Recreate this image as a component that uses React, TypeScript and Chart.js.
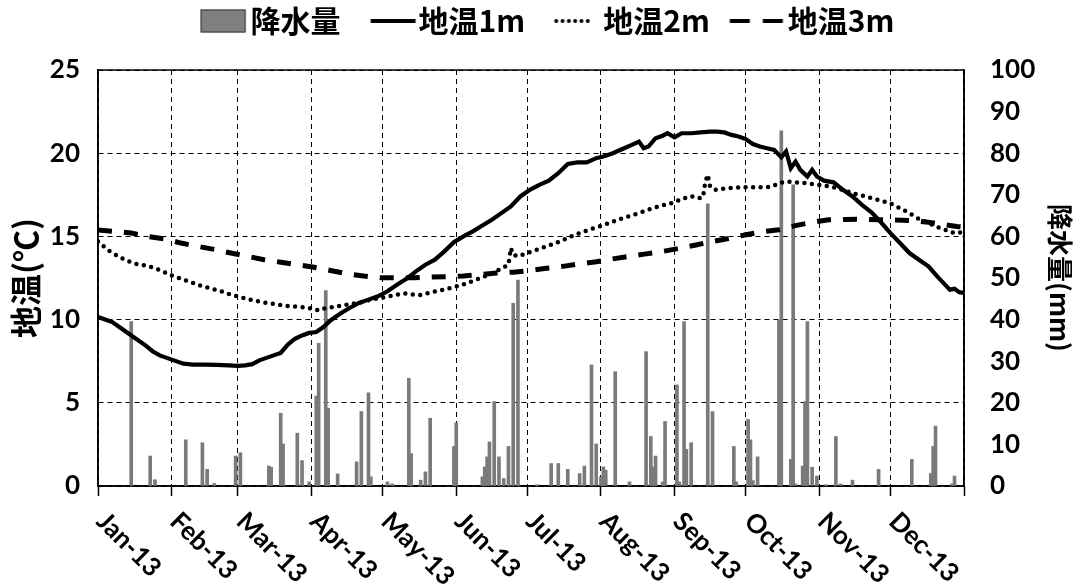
import { useEffect, useRef } from 'react';
import { Chart, registerables } from 'chart.js';

Chart.register(...registerables);

const CANVAS_W = 1073;
const CANVAS_H = 584;
const LATIN_FONT = "Lato, 'Noto Sans', sans-serif";
const CJK_FONT = "'Noto Sans CJK JP', 'Noto Sans', sans-serif";
const LEGEND_FONT_SIZE = 30;
const LEGEND_SLOT = 57;

// Day of year (0 = 1 Jan 2013) for each month start, plus the year end
const monthStarts = [0, 31, 59, 90, 120, 151, 181, 212, 243, 273, 304, 334, 365];
const monthLabels = ['Jan-13', 'Feb-13', 'Mar-13', 'Apr-13', 'May-13', 'Jun-13', 'Jul-13', 'Aug-13', 'Sep-13', 'Oct-13', 'Nov-13', 'Dec-13'];

// Daily precipitation (mm) on rainy days
const rainDays = [14, 22, 24, 37, 44, 46, 49, 58, 60, 72, 73, 77, 78, 84, 86, 89, 92, 93, 96, 97, 101, 109, 111, 114, 115, 122, 124, 131, 132, 136, 138, 140, 150, 151, 162, 163, 164, 165, 167, 169, 171, 173, 175, 177, 185, 191, 194, 198, 203, 205, 208, 210, 212, 213, 214, 218, 224, 231, 233, 234, 235, 238, 239, 244, 245, 247, 248, 250, 257, 259, 268, 269, 274, 275, 276, 278, 287, 288, 292, 293, 294, 297, 298, 299, 301, 303, 307, 311, 313, 318, 329, 343, 351, 352, 353, 360, 361];
const rainMm = [39.5, 7.2, 1.5, 11.1, 10.4, 4.0, 0.6, 7.2, 8.0, 4.8, 4.5, 17.5, 10.1, 12.7, 6.1, 1.0, 21.6, 34.3, 47.0, 18.7, 2.9, 5.8, 17.9, 22.4, 2.2, 1.0, 0.5, 25.9, 7.8, 1.4, 3.4, 16.3, 9.5, 15.2, 2.2, 4.6, 7.0, 10.6, 20.3, 7.0, 1.8, 9.5, 43.9, 49.5, 0.3, 5.4, 5.4, 4.0, 3.0, 4.8, 29.1, 10.1, 2.2, 4.6, 3.8, 27.5, 1.0, 32.3, 11.9, 4.6, 7.2, 1.0, 15.5, 24.3, 1.0, 39.5, 8.8, 10.4, 67.8, 17.9, 9.5, 1.0, 16.0, 11.1, 1.3, 7.0, 39.9, 85.4, 6.4, 72.4, 0.5, 4.8, 20.3, 39.5, 4.5, 2.4, 0.3, 11.9, 0.5, 1.4, 4.0, 6.4, 3.0, 9.5, 14.4, 0.5, 2.4];

// Soil temperature at 1 m (°C)
const temp1mDays = [0, 3, 6, 9, 13, 16, 20, 23, 26, 29, 32, 36, 40, 45, 50, 55, 59, 62, 65, 68, 71, 74, 77, 80, 83, 86, 89, 92, 95, 98, 102, 106, 110, 114, 118, 122, 126, 130, 134, 138, 142, 146, 150, 154, 158, 162, 166, 170, 174, 178, 182, 186, 190, 194, 198, 202, 206, 210, 213, 217, 221, 225, 228, 230, 232, 235, 238, 240, 243, 246, 250, 254, 258, 261, 264, 267, 270, 273, 276, 279, 282, 285, 287, 288, 290, 292, 294, 296, 299, 301, 303, 306, 310, 314, 318, 322, 326, 330, 334, 338, 342, 346, 350, 354, 357, 359, 361, 363, 365];
const temp1mValues = [10.15, 10.0, 9.85, 9.55, 9.15, 8.85, 8.45, 8.1, 7.85, 7.7, 7.55, 7.35, 7.3, 7.3, 7.28, 7.25, 7.22, 7.25, 7.32, 7.55, 7.7, 7.85, 8.0, 8.5, 8.85, 9.05, 9.2, 9.25, 9.55, 9.95, 10.35, 10.7, 11.0, 11.2, 11.4, 11.7, 12.1, 12.45, 12.9, 13.3, 13.6, 14.1, 14.65, 15.0, 15.3, 15.65, 16.0, 16.4, 16.8, 17.4, 17.8, 18.1, 18.35, 18.8, 19.35, 19.45, 19.45, 19.7, 19.8, 20.0, 20.25, 20.5, 20.7, 20.3, 20.4, 20.9, 21.05, 21.2, 20.95, 21.2, 21.2, 21.25, 21.3, 21.3, 21.25, 21.1, 21.0, 20.85, 20.55, 20.4, 20.3, 20.2, 19.9, 19.75, 20.1, 19.1, 19.5, 19.0, 18.6, 19.0, 18.6, 18.35, 18.25, 17.8, 17.4, 16.9, 16.45, 15.85, 15.2, 14.6, 14.0, 13.6, 13.2, 12.55, 12.1, 11.8, 11.85, 11.65, 11.6];

// Soil temperature at 2 m (°C)
const temp2mDays = [0, 4, 8, 12, 16, 20, 24, 28, 32, 36, 40, 44, 48, 52, 56, 60, 64, 68, 72, 76, 80, 84, 88, 91, 93, 96, 99, 103, 107, 111, 115, 119, 122, 126, 129, 133, 136, 140, 145, 150, 155, 159, 163, 167, 171, 173, 174, 175, 177, 180, 183, 187, 191, 195, 199, 203, 207, 211, 215, 219, 223, 227, 231, 235, 239, 243, 246, 250, 253, 255, 256, 257, 258, 260, 264, 268, 272, 276, 280, 284, 287, 290, 294, 298, 302, 306, 310, 314, 318, 322, 326, 330, 334, 338, 342, 346, 350, 354, 358, 361, 363, 365];
const temp2mValues = [14.7, 14.2, 13.85, 13.55, 13.35, 13.25, 13.1, 12.85, 12.6, 12.4, 12.2, 12.0, 11.85, 11.7, 11.5, 11.35, 11.2, 11.08, 10.98, 10.9, 10.82, 10.78, 10.72, 10.65, 10.55, 10.7, 10.75, 10.85, 10.95, 11.05, 11.2, 11.3, 11.38, 11.5, 11.58, 11.5, 11.48, 11.62, 11.78, 11.95, 12.15, 12.38, 12.6, 12.85, 13.15, 13.3, 14.3, 13.9, 13.8, 13.95, 14.1, 14.3, 14.5, 14.72, 14.98, 15.2, 15.4, 15.58, 15.78, 16.0, 16.18, 16.35, 16.55, 16.75, 16.9, 17.05, 17.25, 17.42, 17.3, 17.35, 18.3, 18.7, 18.0, 17.8, 17.88, 17.92, 17.95, 17.95, 17.95, 17.98, 18.2, 18.3, 18.25, 18.2, 18.12, 18.05, 17.95, 17.8, 17.6, 17.45, 17.3, 17.15, 16.98, 16.7, 16.4, 16.05, 15.8, 15.55, 15.35, 15.2, 15.25, 15.2];

// Soil temperature at 3 m (°C)
const temp3mDays = [0, 7, 14, 21, 28, 35, 42, 49, 56, 63, 70, 77, 84, 91, 98, 105, 112, 119, 126, 133, 140, 147, 154, 161, 168, 175, 182, 189, 196, 203, 210, 217, 224, 231, 238, 245, 252, 259, 266, 273, 280, 287, 294, 301, 308, 315, 322, 329, 336, 343, 350, 357, 362, 365];
const temp3mValues = [15.38, 15.3, 15.2, 15.0, 14.85, 14.6, 14.4, 14.22, 14.0, 13.8, 13.6, 13.45, 13.3, 13.15, 12.95, 12.75, 12.62, 12.52, 12.52, 12.52, 12.55, 12.58, 12.62, 12.7, 12.8, 12.85, 12.95, 13.08, 13.2, 13.35, 13.48, 13.65, 13.8, 13.95, 14.1, 14.28, 14.48, 14.7, 14.88, 15.1, 15.28, 15.4, 15.65, 15.85, 16.0, 16.02, 16.03, 16.0, 15.98, 15.95, 15.85, 15.7, 15.6, 15.55];

const toPoints = (xs: number[], ys: number[]) => xs.map((x, i) => ({ x, y: ys[i] }));

type SymbolKind = 'box' | 'solid' | 'dotted' | 'dashed';

// Legend marker drawn into a small canvas so it can sit right next to its text
function makeLegendSymbol(kind: SymbolKind): HTMLCanvasElement {
  const spec: Record<SymbolKind, [number, number]> = {
    box: [45, 5],
    solid: [45, 3],
    dotted: [38, 11],
    dashed: [55, 3],
  };
  const [len, gap] = spec[kind];
  const c = document.createElement('canvas');
  c.width = LEGEND_SLOT * 2;
  c.height = 30;
  const g = c.getContext('2d')!;
  const end = LEGEND_SLOT * 1.5 + LEGEND_FONT_SIZE / 2 - gap;
  const start = end - len;
  const cy = 15;
  g.fillStyle = '#000';
  g.strokeStyle = '#000';
  if (kind === 'box') {
    g.fillStyle = '#7f7f7f';
    g.fillRect(start, cy - 11.5, len, 23);
    g.strokeStyle = '#3a3a3a';
    g.lineWidth = 1;
    g.strokeRect(start + 0.5, cy - 11, len - 1, 22);
  } else if (kind === 'solid') {
    g.lineWidth = 4;
    g.beginPath();
    g.moveTo(start, cy);
    g.lineTo(end, cy);
    g.stroke();
  } else if (kind === 'dotted') {
    for (let x = start + 2; x <= end - 2; x += 6.3) {
      g.beginPath();
      g.arc(x, cy, 2, 0, Math.PI * 2);
      g.fill();
    }
  } else {
    g.lineWidth = 4;
    g.setLineDash([20, 13]);
    g.beginPath();
    g.moveTo(start, cy);
    g.lineTo(end, cy);
    g.stroke();
  }
  return c;
}

// Month labels slanting down to the right from each tick
const monthLabelsPlugin = {
  id: 'monthLabels',
  afterDraw(chart: any) {
    const { ctx } = chart;
    const xs = chart.scales.x;
    ctx.save();
    ctx.font = `bold 26px ${LATIN_FONT}`;
    ctx.fillStyle = '#000';
    ctx.textAlign = 'left';
    ctx.textBaseline = 'middle';
    monthLabels.forEach((label, i) => {
      const px = xs.getPixelForValue(monthStarts[i]);
      ctx.save();
      ctx.translate(px + 3, xs.top + 31);
      ctx.rotate(Math.PI / 4);
      ctx.fillText(label, 0, 0);
      ctx.restore();
    });
    ctx.restore();
  },
};

// Solid frame around the plot area
const plotFramePlugin = {
  id: 'plotFrame',
  beforeDatasetsDraw(chart: any) {
    const { ctx, chartArea: a } = chart;
    ctx.save();
    ctx.strokeStyle = '#000';
    ctx.lineWidth = 1.5;
    ctx.strokeRect(a.left, a.top, a.right - a.left, a.bottom - a.top);
    ctx.restore();
  },
};

export default function App() {
  const canvasRef = useRef<HTMLCanvasElement | null>(null);

  useEffect(() => {
    const canvas = canvasRef.current;
    if (!canvas) return;
    const symbols = [
      makeLegendSymbol('box'),
      makeLegendSymbol('solid'),
      makeLegendSymbol('dotted'),
      makeLegendSymbol('dashed'),
    ];

    const chart = new Chart(canvas, {
      type: 'line',
      data: {
        datasets: [
          {
            type: 'bar',
            label: '降水量',
            data: toPoints(rainDays, rainMm),
            yAxisID: 'y1',
            backgroundColor: '#7a7a7a',
            borderWidth: 0,
            barThickness: 3,
            order: 10,
          } as any,
          {
            type: 'line',
            label: '地温1m',
            data: toPoints(temp1mDays, temp1mValues),
            yAxisID: 'y',
            borderColor: '#000',
            borderWidth: 4.2,
            pointRadius: 0,
            tension: 0,
            order: 1,
          },
          {
            type: 'line',
            label: '地温2m',
            data: toPoints(temp2mDays, temp2mValues),
            yAxisID: 'y',
            borderColor: '#000',
            borderWidth: 4.5,
            borderDash: [0, 7.5],
            borderCapStyle: 'round',
            pointRadius: 0,
            tension: 0,
            order: 2,
          },
          {
            type: 'line',
            label: '地温3m',
            data: toPoints(temp3mDays, temp3mValues),
            yAxisID: 'y',
            borderColor: '#000',
            borderWidth: 5,
            borderDash: [14, 12],
            pointRadius: 0,
            tension: 0,
            order: 3,
          },
        ],
      },
      options: {
        responsive: false,
        maintainAspectRatio: false,
        animation: false,
        devicePixelRatio: 1,
        layout: { autoPadding: false, padding: 0 },
        plugins: {
          tooltip: { enabled: false },
          title: {
            display: true,
            text: '',
            weight: 500,
            padding: 0,
            font: { size: 24, lineHeight: 1 },
          },
          legend: {
            display: true,
            position: 'top',
            labels: {
              usePointStyle: true,
              pointStyleWidth: LEGEND_SLOT,
              boxHeight: 20,
              padding: 6,
              color: '#000',
              font: { family: CJK_FONT, size: LEGEND_FONT_SIZE, weight: 'bold' },
              generateLabels: (c: any) =>
                c.data.datasets.map((ds: any, i: number) => ({
                  text: ds.label,
                  pointStyle: symbols[i],
                  datasetIndex: i,
                  hidden: false,
                  fillStyle: 'transparent',
                  strokeStyle: 'transparent',
                  lineWidth: 0,
                  fontColor: '#000',
                })),
            },
          },
        },
        scales: {
          x: {
            type: 'linear',
            min: 0,
            max: 365,
            offset: false,
            afterBuildTicks: (axis: any) => {
              axis.ticks = monthStarts.map((v) => ({ value: v }));
            },
            afterFit: (scale: any) => {
              scale.height = CANVAS_H - 486;
            },
            ticks: { display: false },
            grid: {
              offset: false,
              color: '#000',
              lineWidth: 1,
              drawTicks: true,
              tickLength: 10,
              tickColor: '#000',
              tickWidth: 1.5,
            },
            border: { display: true, color: '#000', width: 1.5, dash: [5, 4] },
          },
          y: {
            type: 'linear',
            position: 'left',
            min: 0,
            max: 25,
            afterFit: (scale: any) => {
              scale.width = 98;
            },
            ticks: {
              stepSize: 5,
              padding: 18,
              color: '#000',
              font: { family: LATIN_FONT, size: 26, weight: 'bold' },
            },
            grid: { color: '#000', lineWidth: 1, drawTicks: false },
            border: { display: true, color: '#000', width: 1.5, dash: [5, 4] },
            title: {
              display: true,
              text: '地温(℃)',
              color: '#000',
              padding: { top: 10, bottom: 0 },
              font: { family: CJK_FONT, size: 32, weight: 'bold', lineHeight: 1 },
            },
          },
          y1: {
            type: 'linear',
            position: 'right',
            min: 0,
            max: 100,
            afterFit: (scale: any) => {
              scale.width = CANVAS_W - 964;
            },
            ticks: {
              stepSize: 10,
              padding: 26,
              color: '#000',
              font: { family: LATIN_FONT, size: 26, weight: 'bold' },
            },
            grid: { drawOnChartArea: false, drawTicks: false },
            border: { display: true, color: '#000', width: 1.5 },
            title: {
              display: true,
              text: '降水量(mm)',
              color: '#000',
              padding: { top: 0, bottom: 0 },
              font: { family: CJK_FONT, size: 26, weight: 'bold', lineHeight: 1 },
            },
          },
        },
      } as any,
      plugins: [monthLabelsPlugin, plotFramePlugin],
    });

    return () => chart.destroy();
  }, []);

  return (
    <div style={{ position: 'fixed', left: 0, top: 0, width: CANVAS_W, height: CANVAS_H, background: '#fff' }}>
      <canvas ref={canvasRef} width={CANVAS_W} height={CANVAS_H} style={{ display: 'block' }} />
    </div>
  );
}
